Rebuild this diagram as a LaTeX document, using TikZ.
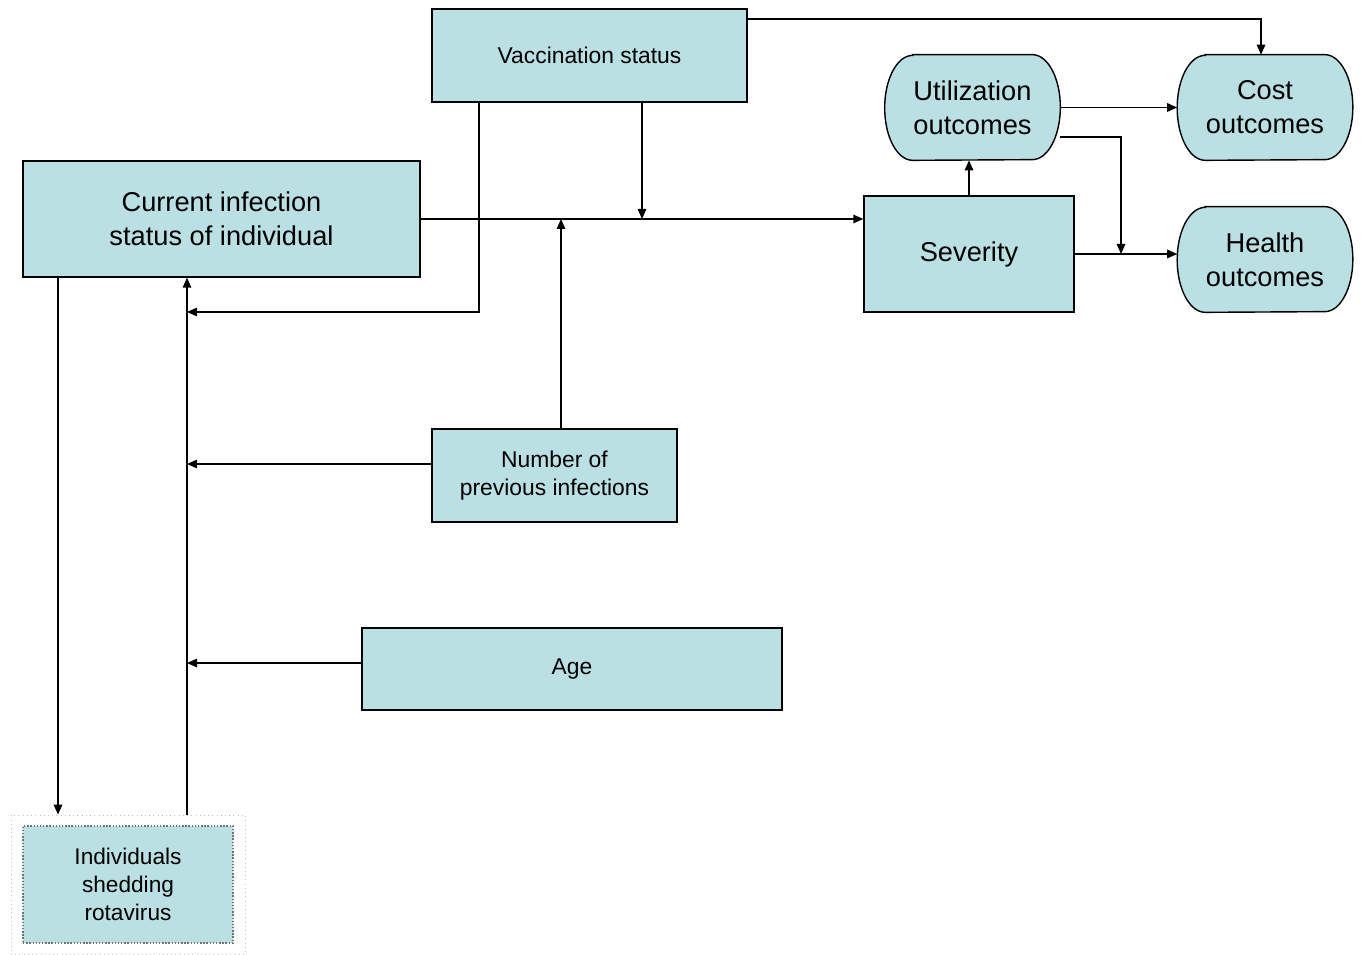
\documentclass[tikz,border=0pt]{standalone}
\usepackage{fontspec}
\setmainfont{Liberation Sans}
\usetikzlibrary{arrows.meta,backgrounds}
\definecolor{boxcyan}{RGB}{186,224,227}
\begin{document}
\begin{tikzpicture}[x=0.02cm,y=-0.02cm,
        box/.style={draw,fill=boxcyan,line width=0.8pt,align=center,inner sep=0pt},
        big/.style={font=\fontsize{15.5}{19.3}\selectfont},
        small/.style={font=\fontsize{13}{15.5}\selectfont},
        outcome/.style={big,align=center,inner sep=0pt,minimum width=3.5cm,minimum height=2.1cm},
        outline/.style={draw,fill=boxcyan,line width=0.8pt},
        arr/.style={line width=0.8pt,-{Triangle[length=2mm,width=1.7mm]}}]
    \useasboundingbox (0,0) rectangle (1361,955);
    \node[box,small,minimum width=6.3cm,minimum height=1.86cm] (vacc) at (589.5,55.5) {Vaccination status};
    \node[box,big,minimum width=7.94cm,minimum height=2.32cm] (cur) at (221.5,219) {Current infection\\ status of individual};
    \node[box,big,minimum width=4.2cm,minimum height=2.32cm] (sev) at (969,254) {Severity};
    \node[outcome] (util) at (972.5,107.5) {Utilization\\ outcomes};
    \node[outcome] (cost) at (1265,107.5) {Cost\\ outcomes};
    \node[outcome] (health) at (1265,259.5) {Health\\ outcomes};
    \node[box,small,minimum width=4.9cm,minimum height=1.86cm] (num) at (554.5,475.5) {Number of\\ previous infections};
    \node[box,small,minimum width=8.4cm,minimum height=1.64cm] (age) at (572,669) {Age};
    \node[draw=black!25,dotted,minimum width=4.68cm,minimum height=2.78cm] (shedout) at (128,884.5) {};
    \node[box,draw=black!55,densely dotted,font=\fontsize{12.9}{15.9}\selectfont,minimum width=4.2cm,minimum height=2.34cm] (shed) at (128,884.5) {Individuals\\ shedding\\ rotavirus};

    \begin{scope}[on background layer]
        \foreach \n in {util,cost,health}
            \draw[outline] ([xshift=0.56cm]\n.north west) -- ([xshift=-0.56cm]\n.north east)
                arc[start angle=90,end angle=-90,x radius=0.56cm,y radius=1.05cm]
                -- ([xshift=0.56cm]\n.south west)
                arc[start angle=270,end angle=90,x radius=0.56cm,y radius=1.05cm] -- cycle;
    \end{scope}

    \coordinate (join) at (1121,254);
    \coordinate (vmid) at (642,219);
    \coordinate (nmid) at (561,219);
    \coordinate (vback) at (187,312);
    \coordinate (nback) at (187,464);
    \coordinate (aback) at (187,663);

    \draw[arr] (vacc.east |- 0,19) -| (cost.north -| 1261,0);
    \draw[arr] (util) -- (cost);
    \draw[arr] (util.east |- 0,137) -| (join);
    \draw[arr] (sev.east) -- (sev.east -| health.west);
    \draw[arr] (sev.north) -- (sev.north |- util.south);
    \draw[arr] (cur.east) -- (cur.east -| sev.west);
    \draw[arr] (vacc.south -| vmid) -- (vmid);
    \draw[arr] (num.north -| nmid) -- (nmid);
    \draw[arr] (vacc.south -| 479,0) |- (vback);
    \draw[arr] (num.west |- nback) -- (nback);
    \draw[arr] (age.west |- aback) -- (aback);
    \draw[arr] (shedout.north -| 187,0) -- (cur.south -| 187,0);
    \draw[arr] (cur.south -| 58,0) -- (shedout.north -| 58,0);
\end{tikzpicture}
\end{document}
